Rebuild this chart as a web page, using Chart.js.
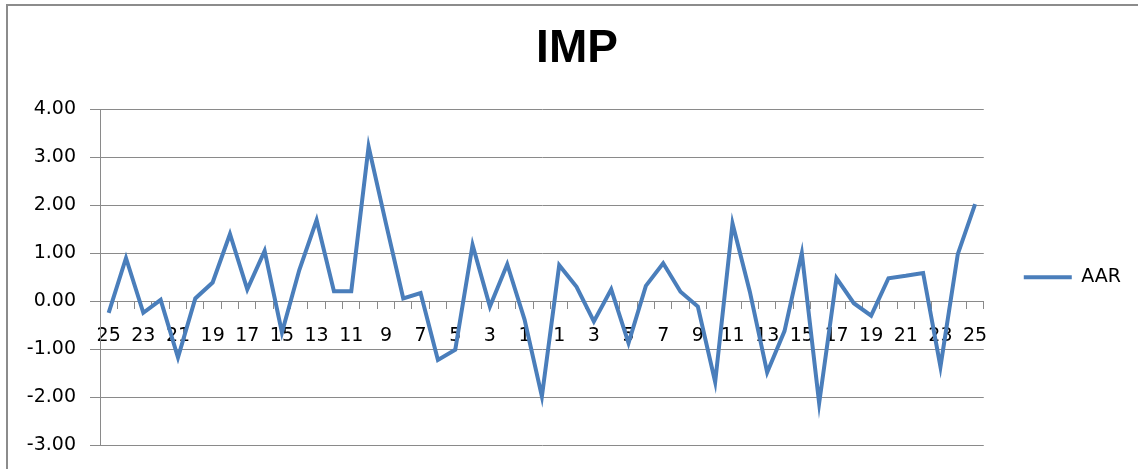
<!DOCTYPE html>
<html>
<head>
<meta charset="utf-8">
<title>IMP</title>
<script src="https://cdn.jsdelivr.net/npm/chart.js@4.4.1/dist/chart.umd.min.js"></script>
<style>
  html, body { margin: 0; padding: 0; background: #fff; overflow: hidden; }
  #wrap  { position: relative; width: 1138px; height: 469px; overflow: hidden; }
  #edge-top  { position: absolute; left: 6px; top: 4px; width: 1132px; height: 2px; background: #8c8c8c; }
  #edge-left { position: absolute; left: 6px; top: 4px; width: 2px; height: 465px; background: #8c8c8c; }
  #chart { position: absolute; left: 0; top: 0; }
</style>
</head>
<body>
<div id="wrap">
  <div id="edge-top"></div>
  <div id="edge-left"></div>
  <canvas id="chart" width="1138" height="469"></canvas>
</div>
<script>
// ── Data ───────────────────────────────────────────────────────────────────
// event window -25 … 0 … +25, shown without the sign like the original
const DAYS = [
  '25','24','23','22','21','20','19','18','17','16','15','14','13',
  '12','11','10','9','8','7','6','5','4','3','2','1',
  '0',
  '1','2','3','4','5','6','7','8','9','10','11','12','13',
  '14','15','16','17','18','19','20','21','22','23','24','25',
];

const AAR = [
  -0.24, 0.90, -0.24, 0.03, -1.17, 0.06, 0.39, 1.40, 0.25, 1.05,
  -0.65, 0.65, 1.69, 0.21, 0.21, 3.22, 1.62, 0.06, 0.17, -1.22,
  -1.01, 1.17, -0.11, 0.77, -0.38, -1.98, 0.75, 0.30, -0.42, 0.25,
  -0.87, 0.32, 0.79, 0.20, -0.11, -1.68, 1.62, 0.20, -1.48, -0.62,
  1.00, -2.12, 0.48, -0.04, -0.30, 0.48, 0.53, 0.59, -1.36, 0.98,
  2.02,
];

const Y_MIN = -3;
const Y_MAX = 4;

// ── Styles ─────────────────────────────────────────────────────────────────
const BLUE  = '#4A7EBB';
const GRID  = '#8a8a8a';
const FONT  = { family: '"DejaVu Sans", sans-serif', size: 19, lineHeight: 1 };

// ── Chart ──────────────────────────────────────────────────────────────────
new Chart(document.getElementById('chart'), {
  type: 'line',
  data: {
    labels: DAYS,
    datasets: [{
      label: 'AAR',
      data: AAR,
      borderColor: BLUE,
      backgroundColor: BLUE,
      borderWidth: 4,
      pointRadius: 0,
      tension: 0,
    }],
  },
  options: {
    responsive: false,
    animation: false,
    layout: { padding: { left: 23, right: 7, top: 0, bottom: 23 } },
    plugins: {
      title: {
        display: true,
        text: 'IMP',
        color: '#000',
        font: { family: '"Liberation Sans", Arial, sans-serif', size: 46, weight: 'bold', lineHeight: 1 },
        padding: { top: 26, bottom: 37 },
      },
      legend: {
        position: 'right',
        fullSize: false,
        labels: {
          usePointStyle: true,
          pointStyle: 'line',
          pointStyleWidth: 48,
          padding: 40,
          color: '#000',
          font: { family: '"DejaVu Sans", sans-serif', size: 19 },
        },
      },
      tooltip: { enabled: false },
    },
    scales: {
      x: {
        type: 'category',
        position: { y: 0 },
        offset: true,
        afterFit: s => { s.height = 0; },
        grid: { drawOnChartArea: false, drawTicks: true, tickLength: 7, color: GRID, offset: true },
        border: { display: true, color: GRID, width: 1 },
        ticks: {
          autoSkip: false,
          maxRotation: 0,
          minRotation: 0,
          padding: 18,
          color: '#000',
          font: FONT,
          callback: (v, i) => (i % 2 === 0 ? DAYS[i] : ''),
        },
      },
      y: {
        min: Y_MIN,
        max: Y_MAX,
        afterFit: s => { s.width = 77; },
        grid: { color: GRID, lineWidth: 1, drawTicks: true, tickLength: 10 },
        border: { display: true, color: GRID, width: 1 },
        ticks: {
          stepSize: 1,
          padding: 14,
          color: '#000',
          font: FONT,
          callback: v => v.toFixed(2),
        },
      },
    },
  },
});
</script>
</body>
</html>
